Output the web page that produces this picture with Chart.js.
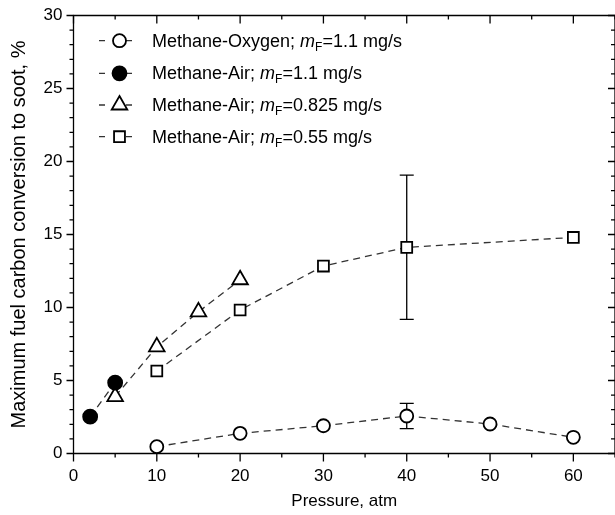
<!DOCTYPE html>
<html>
<head>
<meta charset="utf-8">
<script src="https://cdn.jsdelivr.net/npm/chart.js@4.4.1/dist/chart.umd.min.js"></script>
<style>
  body { margin: 0; background: #fff; }
  #wrap { position: relative; width: 615px; height: 515px; }
  #legend { position: absolute; left: 0; top: 0; font-family: "Liberation Sans", Arial, sans-serif; font-size: 18px; color: #000; }
  #legend .row { position: absolute; left: 152px; height: 20px; line-height: 20px; white-space: nowrap; }
  #legend sub { font-size: 12px; vertical-align: -4px; line-height: 0; }
</style>
</head>
<body>
<div id="wrap">
  <canvas id="sootChart" width="615" height="515"></canvas>
  <div id="legend"></div>
</div>
<script>
// Dados
const pressureO2 = [10, 20, 30, 40, 50, 60];
const sootO2 = [0.47, 1.38, 1.9, 2.57, 2.02, 1.11];

const pressureAir11 = [2, 5];
const sootAir11 = [2.52, 4.85];

const pressureAir0825 = [5, 10, 15, 20];
const sootAir0825 = [3.9, 7.3, 9.7, 11.9];

const pressureAir055 = [10, 20, 30, 40, 60];
const sootAir055 = [5.65, 9.83, 12.84, 14.12, 14.8];

// barras de erro: [pressao, minimo, maximo]
const errO2 = [[40, 1.7, 3.44]];
const errAir055 = [[40, 9.19, 19.07]];

const xTicks = [0, 10, 20, 30, 40, 50, 60];
const yTicks = [0, 5, 10, 15, 20, 25, 30];

const legendLabels = [
  'Methane-Oxygen; <i>m</i><sub>F</sub>=1.1 mg/s',
  'Methane-Air; <i>m</i><sub>F</sub>=1.1 mg/s',
  'Methane-Air; <i>m</i><sub>F</sub>=0.825 mg/s',
  'Methane-Air; <i>m</i><sub>F</sub>=0.55 mg/s'
];

const FONT = '"Liberation Sans", Arial, sans-serif';
const lineColor = '#333';

function pts(xs, ys) {
  return xs.map((x, i) => ({ x: x, y: ys[i] }));
}

const series = [
  { data: pts(pressureO2, sootO2), pointStyle: 'circle', pointRadius: 6.5, fill: '#fff' },
  { data: pts(pressureAir11, sootAir11), pointStyle: 'circle', pointRadius: 7, fill: '#000' },
  { data: pts(pressureAir0825, sootAir0825), pointStyle: 'triangle', pointRadius: 9, fill: '#fff' },
  { data: pts(pressureAir055, sootAir055), pointStyle: 'rect', pointRadius: 7.7, fill: '#fff' }
];

// desenha um marcador simples
function marker(ctx, style, r, x, y, fill) {
  ctx.save();
  ctx.beginPath();
  if (style === 'circle') {
    ctx.arc(x, y, r, 0, Math.PI * 2);
  } else if (style === 'triangle') {
    for (let k = 0; k < 3; k++) {
      const a = k * 2 * Math.PI / 3;
      const px = x + Math.sin(a) * r, py = y - Math.cos(a) * r;
      k ? ctx.lineTo(px, py) : ctx.moveTo(px, py);
    }
    ctx.closePath();
  } else {
    const s = r * Math.SQRT1_2;
    ctx.rect(x - s, y - s, 2 * s, 2 * s);
  }
  ctx.fillStyle = fill;
  ctx.fill();
  ctx.lineWidth = 1.8;
  ctx.strokeStyle = '#000';
  ctx.stroke();
  ctx.restore();
}

function noPad(s) {
  s.paddingLeft = 0; s.paddingRight = 0; s.paddingTop = 0; s.paddingBottom = 0;
}

// moldura, marcas dos eixos, barras de erro e legenda
const decorPlugin = {
  id: 'decor',
  beforeDatasetsDraw(chart) {
    const ctx = chart.ctx, xs = chart.scales.x, ys = chart.scales.y;
    ctx.save();
    ctx.strokeStyle = '#000';
    ctx.lineWidth = 1.3;
    errO2.concat(errAir055).forEach(e => {
      const px = xs.getPixelForValue(e[0]);
      const y1 = ys.getPixelForValue(e[1]), y2 = ys.getPixelForValue(e[2]);
      ctx.beginPath();
      ctx.moveTo(px, y1); ctx.lineTo(px, y2);
      ctx.moveTo(px - 7, y1); ctx.lineTo(px + 7, y1);
      ctx.moveTo(px - 7, y2); ctx.lineTo(px + 7, y2);
      ctx.stroke();
    });
    ctx.restore();
  },
  afterDraw(chart) {
    const ctx = chart.ctx, a = chart.chartArea, xs = chart.scales.x, ys = chart.scales.y;
    ctx.save();
    ctx.strokeStyle = '#000';
    ctx.lineWidth = 1.3;
    ctx.beginPath();
    ctx.rect(a.left, a.top, a.right - a.left, a.bottom - a.top);
    ctx.stroke();
    ctx.beginPath();
    for (let v = 0; v <= 65; v += 5) {
      const px = xs.getPixelForValue(v);
      const len = v % 10 === 0 ? 8 : 4;
      ctx.moveTo(px, a.bottom); ctx.lineTo(px, a.bottom + len);
      ctx.moveTo(px, a.top); ctx.lineTo(px, a.top + len);
    }
    for (let v = 0; v <= 30; v += 1) {
      const py = ys.getPixelForValue(v);
      const len = v % 5 === 0 ? 7 : 4;
      ctx.moveTo(a.left, py); ctx.lineTo(a.left - len, py);
      ctx.moveTo(a.right, py); ctx.lineTo(a.right - len, py);
    }
    ctx.stroke();

    // marcadores da legenda
    const rowsY = [40.7, 73.3, 105, 136.7];
    rowsY.forEach((y, i) => {
      const s = series[i];
      ctx.save();
      ctx.strokeStyle = lineColor;
      ctx.lineWidth = 1.3;
      ctx.beginPath();
      ctx.moveTo(99, y); ctx.lineTo(105, y);
      ctx.moveTo(126, y); ctx.lineTo(132, y);
      ctx.stroke();
      ctx.restore();
      marker(ctx, s.pointStyle, s.pointRadius, 119.5, y, s.fill);
    });
    ctx.restore();
  }
};

new Chart(document.getElementById('sootChart'), {
  type: 'scatter',
  data: {
    datasets: series.map(s => ({
      data: s.data,
      showLine: true,
      borderColor: lineColor,
      borderWidth: 1.3,
      borderDash: [7, 5],
      pointStyle: s.pointStyle,
      pointRadius: s.pointRadius,
      pointBackgroundColor: s.fill,
      pointBorderColor: '#000',
      pointBorderWidth: 1.8,
      tension: 0
    }))
  },
  options: {
    responsive: false,
    animation: false,
    devicePixelRatio: 1,
    layout: { autoPadding: false, padding: { top: 15.5, right: 0, left: 0, bottom: 0 } },
    plugins: { legend: { display: false }, tooltip: { enabled: false } },
    scales: {
      x: {
        type: 'linear',
        min: 0,
        max: 65,
        grid: { display: false, drawTicks: false },
        border: { display: false },
        afterFit: s => { s.height = 61.5; noPad(s); },
        afterBuildTicks: s => { s.ticks = xTicks.map(v => ({ value: v })); },
        ticks: { font: { family: FONT, size: 17 }, color: '#000', padding: 13, maxRotation: 0 },
        title: { display: true, text: 'Pressure, atm', font: { family: FONT, size: 17 }, color: '#000', padding: { top: 0, bottom: 3 } }
      },
      y: {
        min: 0,
        max: 30,
        grid: { display: false, drawTicks: false },
        border: { display: false },
        afterFit: s => { s.width = 73.5; noPad(s); },
        afterBuildTicks: s => { s.ticks = yTicks.map(v => ({ value: v })); },
        ticks: { font: { family: FONT, size: 17 }, color: '#000', padding: 11 },
        title: { display: true, text: 'Maximum fuel carbon conversion to soot, %', font: { family: FONT, size: 20 }, color: '#000', padding: { top: 7.5, bottom: 0 } }
      }
    }
  },
  plugins: [decorPlugin]
});

// texto da legenda
const legendDiv = document.getElementById('legend');
[40.7, 73.3, 105, 136.7].forEach((y, i) => {
  const row = document.createElement('div');
  row.className = 'row';
  row.style.top = (y - 10) + 'px';
  row.innerHTML = legendLabels[i];
  legendDiv.appendChild(row);
});
</script>
</body>
</html>
